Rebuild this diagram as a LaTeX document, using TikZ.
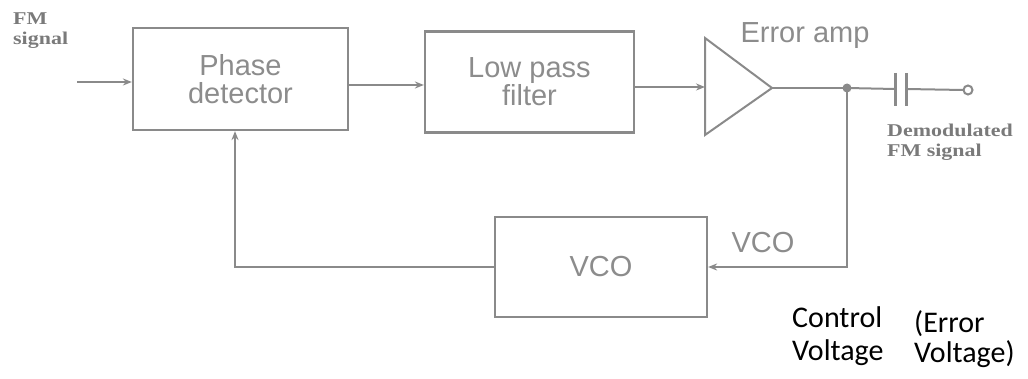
\documentclass[tikz,border=0pt]{standalone}
\usepackage{fontspec}
\setmainfont{Liberation Serif}
\setsansfont{Liberation Sans}
\newfontfamily\calib{Carlito}
\newfontfamily\widebold[FakeStretch=1.22]{Liberation Serif Bold}
\usetikzlibrary{arrows.meta}
\definecolor{ln}{HTML}{8A8A8A}
\definecolor{tx}{HTML}{8C8C8C}
\definecolor{sc}{HTML}{7A7A7A}
\tikzset{
  blk/.style={draw=ln, line width=2.2pt, rectangle, inner sep=0pt, font=\sffamily\fontsize{29}{28}\selectfont, text=tx, align=center},
  wire/.style={draw=ln, line width=2pt},
  arr/.style={wire, -{Stealth[length=9pt,width=7pt]}},
  scan/.style={font=\widebold\fontsize{18}{20}\selectfont, text=sc, inner sep=0pt, anchor=base west},
  lbl/.style={font=\sffamily\fontsize{29}{30}\selectfont, text=tx, inner sep=0pt, anchor=base},
  note/.style={font=\calib\fontsize{30}{33}\selectfont, text=black, inner sep=0pt, anchor=base west}
}
\begin{document}
\begin{tikzpicture}[x=1pt,y=-1pt]
\useasboundingbox (0,0) rectangle (1028,379);
\node[blk, minimum width=215pt, minimum height=102pt] (pd) at (240.5,79) {Phase\\detector};
\node[blk, minimum width=209pt, minimum height=101pt] (lpf) at (529.5,82) {Low pass\\filter};
\node[blk, minimum width=212pt, minimum height=100pt] (vco) at (601,267) {VCO};
% amplifier
\coordinate (ampin) at (705,87);
\coordinate (ampout) at (772,88);
\draw[wire, line join=miter] (705,38) -- (705,135) -- (ampout) -- cycle;
\node[lbl] (ea) at (805,43) {Error amp};
% input
\coordinate (in) at (77,82);
\draw[arr] (in) -- (pd.west |- in);
\node[scan] (fm1) at (13,25) {FM};
\node[scan] (fm2) at (13,45) {signal};
% forward
\draw[arr] (pd.east |- 0,85) -- (lpf.west |- 0,85);
\draw[arr] (lpf.east |- ampin) -- (ampin);
\coordinate (dot) at (847,88);
\draw[wire] (ampout) -- (dot);
\fill[ln] (dot) circle (4.5pt);
% capacitor and output
\coordinate (c1) at (895,89);
\coordinate (c2) at (906,89);
\coordinate (out) at (968,90);
\draw[wire] (dot) -- (c1);
\draw[ln, line width=3pt] (895,73) -- (895,106);
\draw[ln, line width=3pt] (906,73) -- (906,106);
\draw[wire] (c2) -- (963.5,90);
\draw[ln, line width=2pt, fill=white] (out) circle (4.5pt);
\node[scan] (dm1) at (887,137) {Demodulated};
\node[scan] (dm2) at (887,157) {FM signal};
% feedback
\coordinate (cr) at (847,267);
\draw[arr] (dot) -- (cr) -- (vco.east |- cr);
\node[lbl] (vl) at (763,253) {VCO};
\coordinate (cl) at (235,267);
\draw[arr] (vco.west |- cl) -- (cl) -- (cl |- pd.south);
% notes
\node[note] (cv1) at (792,327) {Control};
\node[note] (cv2) at (792,360) {Voltage};
\node[note] (ev1) at (914,333) {(Error};
\node[note] (ev2) at (914,362) {Voltage)};
\end{tikzpicture}
\end{document}
